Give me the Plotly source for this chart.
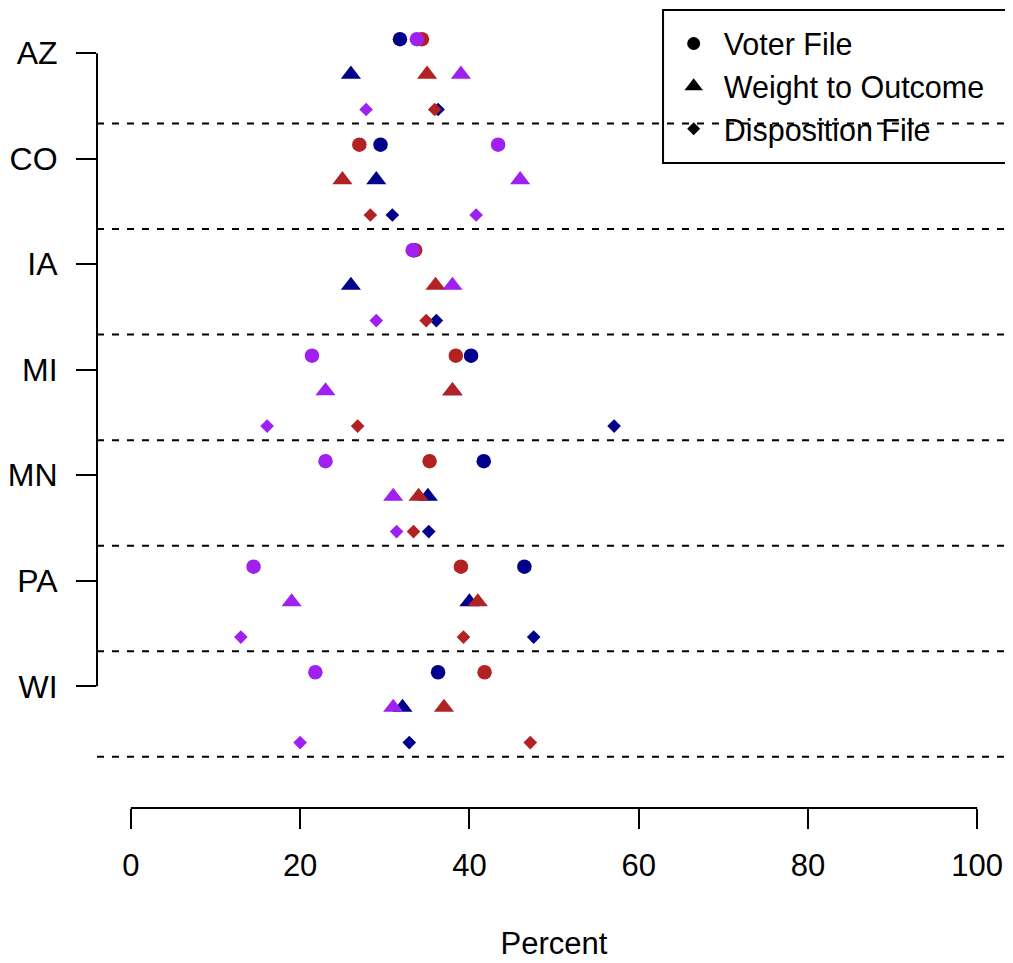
import plotly.graph_objects as go

# ---------------- data ----------------
states = ["AZ", "CO", "IA", "MI", "MN", "PA", "WI"]

# Voter File (circles)
voter_navy   = [31.8, 29.5, 33.4, 40.2, 41.7, 46.5, 36.3]
voter_red    = [34.4, 27.0, 33.6, 38.4, 35.3, 39.0, 41.8]
voter_purple = [33.8, 43.4, 33.3, 21.4, 23.0, 14.5, 21.8]

# Weight to Outcome (triangles)
weight_navy   = [26.0, 29.0, 26.0, 38.0, 35.1, 40.0, 32.1]
weight_red    = [35.0, 25.0, 36.0, 38.0, 34.0, 41.0, 37.0]
weight_purple = [39.0, 46.0, 38.0, 23.0, 31.0, 19.0, 31.0]

# Disposition File (diamonds)
disp_navy   = [36.3, 30.9, 36.1, 57.1, 35.2, 47.6, 32.9]
disp_red    = [35.9, 28.3, 34.9, 26.8, 33.4, 39.3, 47.2]
disp_purple = [27.8, 40.8, 29.0, 16.1, 31.4, 13.0, 20.0]

x_ticks = [0, 20, 40, 60, 80, 100]
legend_labels = ["Voter File", "Weight to Outcome", "Disposition File"]

# ---------------- styling ----------------
NAVY, RED, PURPLE = "#00008B", "#B22222", "#A020F0"
FONT = "Liberation Sans, Arial, Helvetica, sans-serif"

measures = [
    (legend_labels[0], "circle", 14.5, -0.4,
     {NAVY: voter_navy, RED: voter_red, PURPLE: voter_purple}),
    (legend_labels[1], "triangle-up", 17.5, 0.6,
     {NAVY: weight_navy, RED: weight_red, PURPLE: weight_purple}),
    (legend_labels[2], "diamond", 10.5, 1.6,
     {NAVY: disp_navy, RED: disp_red, PURPLE: disp_purple}),
]

fig = go.Figure()

# draw order: navy, red, purple (purple on top)
for color in [NAVY, RED, PURPLE]:
    for name, symbol, size, offset, vals in measures:
        ys = [3 * i + offset for i in range(len(states))]
        fig.add_trace(go.Scatter(
            x=vals[color], y=ys, mode="markers",
            marker=dict(symbol=symbol, size=size, color=color, line=dict(width=0)),
            showlegend=False, hoverinfo="x"))

# legend entries (black symbols)
legend_sizes = {"circle": 13, "triangle-up": 16, "diamond": 10}
for name, symbol, size, offset, vals in measures:
    fig.add_trace(go.Scatter(
        x=[None], y=[None], mode="markers", name=name,
        marker=dict(symbol=symbol, size=legend_sizes[symbol], color="black")))

# legend box
fig.add_shape(type="rect", xref="paper", yref="paper", x0=0.6193, x1=1.0,
              y0=0.8083, y1=1.0, line=dict(color="black", width=2),
              fillcolor="rgba(0,0,0,0)", layer="below")

# dashed separators
for i in range(len(states)):
    fig.add_shape(type="line", xref="paper", x0=0, x1=1, yref="y",
                  y0=3 * i + 2, y1=3 * i + 2,
                  line=dict(color="black", width=2, dash="7px,8px"), layer="above")

# y axis line (first to last tick)
fig.add_shape(type="line", xref="paper", x0=0, x1=0, yref="y",
              y0=0, y1=3 * (len(states) - 1), line=dict(color="black", width=2))
# x axis line (first to last tick)
fig.add_shape(type="line", xref="x", x0=x_ticks[0], x1=x_ticks[-1], yref="paper",
              y0=0, y1=0, line=dict(color="black", width=2))

fig.update_layout(
    width=1005, height=955,
    margin=dict(l=89, r=2, t=2, b=155, autoexpand=False),
    paper_bgcolor="white", plot_bgcolor="white",
    font=dict(family=FONT, size=31, color="black"),
    xaxis=dict(range=[-4, 104], tickvals=x_ticks, ticktext=[str(v) for v in x_ticks],
               ticks="outside", ticklen=20, tickwidth=2, tickcolor="black",
               showgrid=False, zeroline=False, showline=False, automargin=False,
               ticklabelstandoff=10, tickfont=dict(size=31),
               title=dict(text="Percent", standoff=50, font=dict(size=31))),
    yaxis=dict(range=[21.46, -1.23], tickvals=[3 * i for i in range(len(states))],
               ticktext=states, ticks="outside", ticklen=20, tickwidth=2,
               tickcolor="black", showgrid=False, zeroline=False, showline=False,
               automargin=False, ticklabelstandoff=12, tickfont=dict(size=32)),
    legend=dict(x=0.62, y=0.991, xanchor="left", yanchor="top",
                borderwidth=0, bgcolor="rgba(0,0,0,0)",
                font=dict(size=30.5), itemwidth=50, tracegroupgap=0),
)

fig.write_html("out.html")
